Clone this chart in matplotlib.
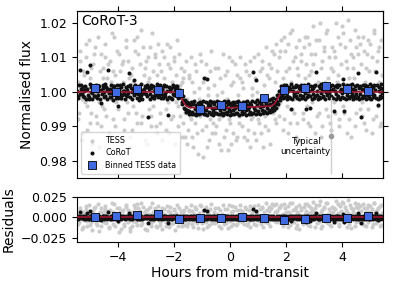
import numpy as np
import matplotlib
matplotlib.use("Agg")
import matplotlib.pyplot as plt

# ---------------- data (hours from mid-transit, flux deviations in ppt) ----------------
tess_t_a = [-5.43, -5.38, -5.34, -5.29, -5.25, -5.19, -5.14, -5.10, -5.05, -5.00, -4.96, -4.91, -4.86, -4.82, -4.77, -4.72, -4.67, -4.63, -4.58, -4.53,
            -4.48, -4.44, -4.39, -4.34, -4.30, -4.25, -4.20, -4.16, -4.11, -4.06, -4.02, -3.97, -3.92, -3.88, -3.83, -3.78, -3.74, -3.69, -3.64, -3.60, -3.55,
            -3.50, -3.46, -3.41, -3.36, -3.32, -3.27, -3.22, -3.18, -3.13, -3.08, -3.04, -2.99, -2.94, -2.90, -2.85, -2.80, -2.76, -2.71, -2.66, -2.62, -2.57,
            -2.52, -2.48, -2.43, -2.38, -2.34, -2.29, -2.24, -2.20, -2.15, -2.10, -2.06, -2.01, -1.96, -1.92, -1.87, -1.82, -1.78, -1.73, -1.68, -1.64, -1.59,
            -1.54, -1.50, -1.45, -1.40, -1.36, -1.31, -1.26, -1.22, -1.17, -1.12, -1.08, -1.03, -0.98, -0.94, -0.89, -0.84, -0.80, -0.75, -0.70, -0.66, -0.61,
            -0.56, -0.52, -0.47, -0.42, -0.38, -0.33, -0.28, -0.24, -0.19, -0.14, -0.10, -0.05, 0.00, 0.05, 0.09, 0.14, 0.19, 0.23, 0.28, 0.33, 0.37,
            0.42, 0.47, 0.51, 0.56, 0.61, 0.65, 0.70, 0.75, 0.79, 0.84, 0.89, 0.93, 0.98, 1.03, 1.07, 1.12, 1.17, 1.21, 1.26, 1.31, 1.35, 1.40, 1.45, 1.49, 1.54, 1.59, 1.63, 1.68,
            1.73, 1.77, 1.82, 1.87, 1.91, 1.96, 2.01, 2.05, 2.10, 2.15, 2.19, 2.24, 2.29, 2.33, 2.38, 2.43, 2.47, 2.52, 2.57, 2.61, 2.66,
            2.71, 2.75, 2.80, 2.85, 2.89, 2.94, 2.99, 3.03, 3.08, 3.13, 3.17, 3.22, 3.27, 3.31, 3.36, 3.41, 3.45, 3.50, 3.55, 3.59, 3.64,
            3.69, 3.73, 3.78, 3.83, 3.87, 3.92, 3.97, 4.01, 4.06, 4.11, 4.15, 4.20, 4.25, 4.29, 4.34, 4.39, 4.43, 4.48, 4.53, 4.57, 4.62,
            4.67, 4.71, 4.76, 4.81, 4.85, 4.90, 4.95, 4.99, 5.04, 5.09, 5.13, 5.18, 5.23, 5.27, 5.32, 5.37, 5.41]
tess_ppt_a = [3, -6, 9, -2, -12, 5, 14, -4, 1, -9, 7, -15, 11, 2, -7, 16, -3, 6, -10, 4,
              -5, 10, -1, 8, -13, 3, 17, -8, 5, -3, 12, -18, 6, -2, 9, -11, 1, 13, -6, 4, -16,
              7, -4, 15, 2, -9, 11, -1, 18, -7, 5, -14, 9, 3, -5, 13, -10, 6, -2, 10, -12, 1,
              8, -6, 12, -1, 4, -11, 14, -3, 7, -8, 2, 10, -15, 5, -4, 11, -7, 3, -9, 6, -13,
              -2, -11, 5, -8, 3, -16, 8, -5, -12, 1, -7, 9, -19, -3, 4, -10, -1, -14, 6, -6, -9,
              2, -12, -4, 7, -8, -17, 0, -6, 5, -11, -2, 10, -9, -15, 3, -5, 8, -13, -1, -7, 4,
              -10, 1, -6, 6, -14, -3, 9, -8, -1, -12, 4, -5, 11, -9, -2, 7, -16, 2, -7, 5, -11, 8, -4, 12, -6, 3, -9, 6,
              10, -3, 15, 4, -8, 12, 1, -12, 7, 17, -5, 9, -2, 13, -9, 5, -14, 11, 2, -6, 16,
              8, -4, 14, -10, 6, 19, -1, 11, -7, 3, 15, -13, 9, 0, 12, -5, 18, 4, -9, 7, 13,
              -3, 10, 20, 5, -8, 14, 2, 17, -6, 9, -12, 21, 4, 11, -2, 7, -10, 13, 1, 16, -5,
              8, -7, 12, 3, -11, 15, 6, -2, 10, -8, 18, 1, 9, -4, 13, -9, 5]
tess_t_b = [-5.41, -5.36, -5.31, -5.27, -5.22, -5.17, -5.12, -5.08, -5.03, -4.98, -4.94, -4.89, -4.84, -4.80, -4.75, -4.70, -4.65, -4.61, -4.56, -4.51,
            -4.46, -4.42, -4.37, -4.32, -4.28, -4.23, -4.18, -4.14, -4.09, -4.04, -4.00, -3.95, -3.90, -3.86, -3.81, -3.76, -3.72, -3.67, -3.62, -3.58, -3.53,
            -3.48, -3.44, -3.39, -3.34, -3.30, -3.25, -3.20, -3.16, -3.11, -3.06, -3.02, -2.97, -2.92, -2.88, -2.83, -2.78, -2.74, -2.69, -2.64, -2.60, -2.55,
            -2.50, -2.46, -2.41, -2.36, -2.32, -2.27, -2.22, -2.18, -2.13, -2.08, -2.04, -1.99, -1.94, -1.90, -1.85, -1.80, -1.76, -1.71, -1.66, -1.62, -1.57,
            -1.52, -1.48, -1.43, -1.38, -1.34, -1.29, -1.24, -1.20, -1.15, -1.10, -1.06, -1.01, -0.96, -0.92, -0.87, -0.82, -0.78, -0.73, -0.68, -0.64, -0.59,
            -0.54, -0.50, -0.45, -0.40, -0.36, -0.31, -0.26, -0.22, -0.17, -0.12, -0.08, -0.03, 0.02, 0.07, 0.11, 0.16, 0.21, 0.25, 0.30, 0.35, 0.39,
            0.44, 0.49, 0.53, 0.58, 0.63, 0.67, 0.72, 0.77, 0.81, 0.86, 0.91, 0.95, 1.00, 1.05, 1.09, 1.14, 1.19, 1.23, 1.28, 1.33, 1.37, 1.42, 1.47, 1.51, 1.56, 1.61, 1.65, 1.70,
            1.75, 1.79, 1.84, 1.89, 1.93, 1.98, 2.03, 2.07, 2.12, 2.17, 2.21, 2.26, 2.31, 2.35, 2.40, 2.45, 2.49, 2.54, 2.59, 2.63, 2.68,
            2.73, 2.77, 2.82, 2.87, 2.91, 2.96, 3.01, 3.05, 3.10, 3.15, 3.19, 3.24, 3.29, 3.33, 3.38, 3.43, 3.47, 3.52, 3.57, 3.61, 3.66,
            3.71, 3.75, 3.80, 3.85, 3.89, 3.94, 3.99, 4.03, 4.08, 4.13, 4.17, 4.22, 4.27, 4.31, 4.36, 4.41, 4.45, 4.50, 4.55, 4.59, 4.64,
            4.69, 4.73, 4.78, 4.83, 4.87, 4.92, 4.97, 5.01, 5.06, 5.11, 5.15, 5.20, 5.25, 5.29, 5.34, 5.39, 5.43]
tess_ppt_b = [-8, 12, 1, -14, 6, -3, 10, -11, 15, 4, -6, 8, -1, 13, -9, 2, -16, 11, -4, 7,
              14, -7, 4, -12, 9, -2, 6, 16, -10, 1, -5, 11, -14, 8, 3, -8, 15, -3, 9, -13, 5,
              -11, 3, 12, -6, 16, -2, 8, -9, 13, 0, 7, -15, 10, 4, -7, 17, -4, 11, -10, 5, 14,
              -9, 6, -14, 10, 1, -5, 8, -12, 13, 3, -7, 9, -3, 15, -10, 2, 7, -13, 4, -6, 9,
              -15, 4, -7, 10, -13, 0, -9, 6, -18, -2, 11, -11, 3, -6, 8, -16, 1, -8, 12, -12, -3,
              7, -10, -1, -15, 4, -7, 11, -13, -4, 6, -17, -8, 2, 9, -12, -3, -14, 5, -9, 10, -6,
              3, -13, 8, -5, -11, 5, -16, 1, -7, 10, -14, 0, -8, 6, -12, 9, -3, -10, 13, -6, 4, -15, 7, -2, 11, -8, 14, -4,
              -7, 12, 2, -11, 16, 6, -4, 14, -9, 3, 18, -6, 10, -13, 7, 15, -2, 9, -8, 13, 4,
              16, -9, 5, 11, -3, 8, -12, 15, 2, -6, 20, 7, -10, 13, 3, 17, -7, 10, 1, -11, 6,
              12, -6, 3, 16, -10, 8, 19, -4, 13, 1, 7, -8, 15, -13, 10, 4, 18, -6, 11, -2, 14,
              -3, 16, -9, 7, 11, -5, 14, 2, -12, 17, 6, -7, 12, 3, -10, 15, -1]

corot_t_a = [-5.44, -5.40, -5.36, -5.32, -5.27, -5.23, -5.19, -5.15, -5.11, -5.06, -5.02, -4.98,
             -4.94, -4.90, -4.86, -4.81, -4.77, -4.73, -4.69, -4.65, -4.60, -4.56, -4.52, -4.48,
             -4.44, -4.39, -4.35, -4.31, -4.27, -4.23, -4.18, -4.14, -4.10, -4.06, -4.02, -3.98,
             -3.93, -3.89, -3.85, -3.81, -3.77, -3.72, -3.68, -3.64, -3.60, -3.56, -3.51, -3.47,
             -3.43, -3.39, -3.35, -3.30, -3.26, -3.22, -3.18, -3.14, -3.09, -3.05, -3.01, -2.97,
             -2.93, -2.88, -2.84, -2.80, -2.76, -2.72, -2.67, -2.63, -2.59, -2.55, -2.51, -2.46,
             -2.42, -2.38, -2.34, -2.30, -2.25, -2.21, -2.17, -2.13, -2.09, -2.04, -2.00, -1.96,
             -1.92, -1.88, -1.83, -1.79, -1.75, -1.71, -1.67, -1.62, -1.58, -1.54, -1.50, -1.46,
             -1.42, -1.37, -1.33, -1.29, -1.25, -1.21, -1.16, -1.12, -1.08, -1.04, -1.00, -0.96,
             -0.92, -0.87, -0.83, -0.79, -0.75, -0.71, -0.66, -0.62, -0.58, -0.54, -0.50, -0.46,
             -0.41, -0.37, -0.33, -0.29, -0.25, -0.20, -0.16, -0.12, -0.08, -0.04, 0.01, 0.05,
             0.09, 0.13, 0.18, 0.22, 0.26, 0.30, 0.34, 0.39, 0.43, 0.47, 0.51, 0.55,
             0.59, 0.64, 0.68, 0.72, 0.76, 0.80, 0.85, 0.89, 0.93, 0.97, 1.01, 1.05,
             1.10, 1.14, 1.18, 1.22, 1.27, 1.31, 1.35, 1.39, 1.43, 1.48, 1.52, 1.56,
             1.60, 1.64, 1.68, 1.72, 1.77, 1.81, 1.85, 1.89, 1.93, 1.98, 2.02, 2.06,
             2.10, 2.14, 2.18, 2.23, 2.27, 2.31, 2.35, 2.39, 2.44, 2.48, 2.52, 2.56,
             2.60, 2.65, 2.69, 2.73, 2.77, 2.81, 2.86, 2.90, 2.94, 2.98, 3.02, 3.06,
             3.11, 3.15, 3.19, 3.23, 3.28, 3.32, 3.36, 3.40, 3.44, 3.49, 3.53, 3.57,
             3.61, 3.65, 3.70, 3.74, 3.78, 3.82, 3.86, 3.91, 3.95, 3.99, 4.03, 4.07,
             4.12, 4.16, 4.20, 4.24, 4.28, 4.33, 4.37, 4.41, 4.45, 4.49, 4.54, 4.58,
             4.62, 4.66, 4.70, 4.75, 4.79, 4.83, 4.87, 4.91, 4.96, 5.00, 5.04, 5.08,
             5.12, 5.16, 5.20, 5.25, 5.29, 5.33, 5.37, 5.41, 5.44]
corot_ppt_a = [0.3, -1.1, 6.3, 0.8, -0.5, 1.3, -1.6, 0.5, 5.8, -0.8, -2.1, 7.7,
               1.4, -0.4, 0.7, -1.3, 0.2, 1.1, -0.9, 0.5, -3.1, -0.6, 1.2, 0.0,
               -1.2, 0.6, 6.3, -0.3, 0.9, -1.5, 1.6, -0.7, 0.4, -1.9, 0.2, -4.0,
               -0.5, 1.3, -1.0, 0.3, 0.4, -0.8, 0.6, 1.7, 5.4, -1.4, 0.1, 0.9,
               3.4, 0.5, -0.2, 1.2, -2.3, 0.7, -0.9, 0.2, -0.3, -0.4, 1.5, -1.1,
               -7.2, 0.8, -0.6, 1.1, -1.3, 0.4, 0.6, -0.9, 0.3, 1.4, -0.5, -1.8,
               0.6, -1.0, 1.6, -0.3, 0.4, -6.8, -1.4, 0.2, 1.2, -0.7, 1.3, 0.5,
               -0.8, 1.1, 0.3, -1.4, -1.0, -3.4, -2.5, -4.9, -3.1, -5.2, -3.8, -5.6,
               -4.0, -5.8, -3.5, -6.3, -5.1, -3.9, -5.0, -4.2, -5.3, -3.6, -4.9, -4.4,
               4.0, -5.4, 3.7, -4.1, -5.9, -3.8, -4.7, -5.6, -3.4, -4.8, -6.0, -4.3,
               -3.9, -5.2, -4.5, -6.2, -3.7, -5.0, -4.4, -5.7, -3.6, -4.9, -5.5, -4.1,
               -5.3, -3.8, -4.7, -6.0, -4.2, -5.1, -3.5, -4.8, -5.9, -4.0, -4.6, -5.4,
               -3.7, -5.0, -4.3, -5.8, -3.9, 5.8, -4.6, -5.2, 3.4, -3.8, -5.5, -4.4,
               -3.6, -5.2, -4.0, -5.6, -3.4, -4.7, -3.9, -5.3, -3.5, -4.6, -3.0, -4.0,
               -3.6, -2.0, -2.9, -0.9, -1.5, 0.6, -0.8, 1.2, -0.3, 0.7, -1.1, 0.4,
               -1.4, 0.9, -4.9, 0.3, -0.6, 1.5, -1.2, 0.1, 1.1, -0.8, 0.5, -1.7,
               0.8, -0.3, -5.1, 1.2, -1.0, 0.4, -4.6, 0.9, -0.5, 1.6, -1.3, 5.8,
               0.2, -1.5, 1.0, -0.4, 0.7, -1.1, 1.4, 0.0, -0.9, 1.1, -0.2, 0.6,
               -1.2, 0.8, -5.6, 0.4, -0.7, 1.3, -1.6, 0.2, 0.9, -0.4, 3.7, -5.6,
               1.0, -0.9, 0.3, -1.4, 1.5, -0.2, 0.7, -1.1, 0.5, -0.6, 5.4, 1.2,
               -0.5, -7.2, 0.9, -1.3, 0.4, 1.1, -0.8, 0.2, -1.6, 0.8, -0.3, 1.4,
               -1.0, 0.6, 5.8, -3.7, 0.3, -1.2, 1.0, -0.4, 0.7]
corot_t_b = [-5.42, -5.38, -5.34, -5.30, -5.25, -5.21, -5.17, -5.13, -5.09, -5.04, -5.00, -4.96,
             -4.92, -4.88, -4.84, -4.79, -4.75, -4.71, -4.67, -4.63, -4.58, -4.54, -4.50, -4.46,
             -4.42, -4.37, -4.33, -4.29, -4.25, -4.21, -4.16, -4.12, -4.08, -4.04, -4.00, -3.96,
             -3.91, -3.87, -3.83, -3.79, -3.75, -3.70, -3.66, -3.62, -3.58, -3.54, -3.49, -3.45,
             -3.41, -3.37, -3.33, -3.28, -3.24, -3.20, -3.16, -3.12, -3.07, -3.03, -2.99, -2.95,
             -2.91, -2.86, -2.82, -2.78, -2.74, -2.70, -2.65, -2.61, -2.57, -2.53, -2.49, -2.44,
             -2.40, -2.36, -2.32, -2.28, -2.23, -2.19, -2.15, -2.11, -2.07, -2.02, -1.98, -1.94,
             -1.90, -1.86, -1.81, -1.77, -1.73, -1.69, -1.65, -1.60, -1.56, -1.52, -1.48, -1.44,
             -1.40, -1.35, -1.31, -1.27, -1.23, -1.19, -1.14, -1.10, -1.06, -1.02, -0.98, -0.94,
             -0.90, -0.85, -0.81, -0.77, -0.73, -0.69, -0.64, -0.60, -0.56, -0.52, -0.48, -0.44,
             -0.39, -0.35, -0.31, -0.27, -0.23, -0.18, -0.14, -0.10, -0.06, -0.02, 0.03, 0.07,
             0.11, 0.15, 0.20, 0.24, 0.28, 0.32, 0.36, 0.41, 0.45, 0.49, 0.53, 0.57,
             0.61, 0.66, 0.70, 0.74, 0.78, 0.82, 0.87, 0.91, 0.95, 0.99, 1.03, 1.07,
             1.12, 1.16, 1.20, 1.24, 1.29, 1.33, 1.37, 1.41, 1.45, 1.50, 1.54, 1.58,
             1.62, 1.66, 1.70, 1.74, 1.79, 1.83, 1.87, 1.91, 1.95, 2.00, 2.04, 2.08,
             2.12, 2.16, 2.20, 2.25, 2.29, 2.33, 2.37, 2.41, 2.46, 2.50, 2.54, 2.58,
             2.62, 2.67, 2.71, 2.75, 2.79, 2.83, 2.88, 2.92, 2.96, 3.00, 3.04, 3.08,
             3.13, 3.17, 3.21, 3.25, 3.30, 3.34, 3.38, 3.42, 3.46, 3.51, 3.55, 3.59,
             3.63, 3.67, 3.72, 3.76, 3.80, 3.84, 3.88, 3.93, 3.97, 4.01, 4.05, 4.09,
             4.14, 4.18, 4.22, 4.26, 4.30, 4.35, 4.39, 4.43, 4.47, 4.51, 4.56, 4.60,
             4.64, 4.68, 4.72, 4.77, 4.81, 4.85, 4.89, 4.93, 4.98, 5.02, 5.06, 5.10,
             5.14, 5.18, 5.22, 5.27, 5.31, 5.35, 5.39, 5.43]
corot_ppt_b = [-1.8, 1.9, -0.7, 2.1, -1.2, 0.4, 1.7, -2.0, 0.9, -1.5, 2.2, -0.1,
               -2.2, 1.6, -1.1, 2.0, -1.7, 0.3, 1.8, -2.1, 0.6, 1.9, -1.4, 2.3,
               1.5, -2.0, 0.8, -1.6, 2.1, -0.2, -2.3, 1.7, -1.0, 2.0, -1.8, 0.7,
               1.9, -1.7, 2.2, -0.6, -2.1, 1.4, -1.3, -0.4, 2.0, 1.1, -2.2, 0.3,
               -0.9, 2.1, -1.9, -0.7, 1.8, -1.4, 2.2, -2.0, 0.8, 1.6, -0.6, 2.0,
               1.3, -2.1, 2.0, -1.6, 1.7, -1.9, -0.3, 2.2, -1.5, -0.8, 2.1, 0.9,
               -1.9, 2.1, -1.2, 1.8, -2.2, 1.5, 0.6, -1.8, -2.1, 2.0, -1.0, 1.6,
               1.6, -1.9, -1.5, 0.6, -3.0, -1.2, -4.6, -2.5, -5.9, -2.8, -6.4, -3.2,
               -2.9, -6.5, -3.0, -2.7, -6.6, -5.9, -3.1, -6.4, -2.8, -6.2, -2.6, -6.5,
               -6.3, -2.9, -6.6, -3.2, -2.7, -6.4, -2.8, -6.7, -3.0, -6.1, -2.6, -6.5,
               -2.8, -6.4, -3.1, -6.7, -2.6, -6.2, -3.0, -6.5, -2.7, -6.6, -3.2, -6.3,
               -2.9, -6.5, -3.0, -6.2, -2.7, -6.6, -3.3, -6.4, -2.8, -6.1, -3.0, -6.6,
               -2.7, -6.3, -3.1, -6.5, -2.6, -6.2, -3.0, -6.4, -2.5, -6.1, -2.9, -6.3,
               -2.5, -6.2, -2.6, -5.9, -2.3, -6.0, -2.4, -5.8, -2.2, -5.6, -1.9, -5.2,
               -4.6, -1.0, -3.6, 0.2, -2.5, 1.6, -1.8, 2.0, -1.6, 1.9, -2.1, 1.5,
               -1.7, 2.2, -2.0, 1.4, -1.1, 2.1, -1.9, 1.7, -2.2, 0.8, 2.0, -1.3,
               1.9, -2.1, 1.5, -1.6, 2.2, -1.2, 1.8, -2.0, 1.1, -1.7, 2.1, -0.8,
               -2.0, 1.8, -1.8, 2.2, -1.4, 1.9, -2.2, 1.6, 2.0, -1.9, 1.7, -1.5,
               2.1, -1.9, 1.7, -2.2, 2.0, -1.3, 1.9, -2.0, -1.6, 2.2, -1.8, 1.5,
               -2.1, 1.9, -1.7, 2.0, -1.2, 2.2, -2.0, 1.6, -1.9, 2.1, -1.4, -2.2,
               1.8, -1.9, 2.1, -1.5, 1.9, -2.1, 1.6, -1.8, 2.2, -2.0, 1.7, -1.4,
               2.0, -1.7, 1.9, -2.1, 1.5, -1.9, 2.2, -1.6]

model_t = [-5.6, -1.83, -1.75, -1.66, -1.57, -1.45, -1.0, 0.0, 1.0, 1.45, 1.58, 1.68, 1.77, 1.85, 5.6]
model_ppt = [0.0, 0.0, -1.3, -3.0, -4.0, -4.5, -4.7, -4.6, -4.3, -4.1, -3.5, -2.2, -0.9, 0.0, 0.0]

bin_t = [-4.80, -4.06, -3.31, -2.56, -1.81, -1.07, -0.32, 0.44, 1.19, 1.93, 2.68, 3.42, 4.17, 4.92]
bin_flux = [1.00106, 0.99990, 1.00090, 1.00060, 0.99960, 0.99514, 0.99620, 0.99600,
            0.99820, 1.00057, 1.00120, 1.00180, 1.00080, 1.00030]
bin_resid = [0.0009, 0.0017, 0.0029, 0.0042, -0.0024, -0.0007, -0.0004, 0.0009,
             -0.0012, -0.0037, -0.0020, -0.0007, -0.0012, 0.0012]

unc_t = 3.6
unc_flux = 0.9872
unc_err = 0.0112

# ---------------- derived quantities ----------------
tess_t = np.array(tess_t_a + tess_t_b)
tess_flux = 1 + np.array(tess_ppt_a + tess_ppt_b) / 1000.0
corot_t = np.array(corot_t_a + corot_t_b)
corot_flux = 1 + np.array(corot_ppt_a + corot_ppt_b) / 1000.0
model_t = np.array(model_t)
model_flux = 1 + np.array(model_ppt) / 1000.0
tess_res = tess_flux - np.interp(tess_t, model_t, model_flux)
corot_res = corot_flux - np.interp(corot_t, model_t, model_flux)

# ---------------- figure ----------------
fig = plt.figure(figsize=(3.95, 2.82), dpi=100)
ax = fig.add_axes([0.195, 0.369, 0.775, 0.592])
axr = fig.add_axes([0.195, 0.143, 0.775, 0.159])

grey = '#cbcbcb'
red = '#9e1530'
blue = '#3f6ae0'

ax.scatter(tess_t, tess_flux, s=9, color=grey, lw=0, zorder=1, label='TESS')
ax.scatter(corot_t, corot_flux, s=8.5, color='#111111', lw=0, zorder=2, label='CoRoT')
ax.plot(model_t, model_flux, color=red, lw=1.2, zorder=3)
ax.plot(bin_t, bin_flux, 's', ms=5.2, mfc=blue, mec='black', mew=0.6, ls='none', zorder=4,
        label='Binned TESS data')
ax.errorbar([unc_t], [unc_flux], yerr=[unc_err], fmt='o', ms=3, color='#999999',
            ecolor='#d0d0d0', elinewidth=1.0, zorder=2)
ax.text(2.69, 0.9841, 'Typical\nuncertainty', ha='center', va='center', fontsize=6.3,
        linespacing=1.1)
ax.text(0.015, 0.985, 'CoRoT-3', transform=ax.transAxes, ha='left', va='top', fontsize=10)

ax.set_xlim(-5.45, 5.45)
ax.set_ylim(0.975, 1.0235)
ax.set_yticks([0.98, 0.99, 1.00, 1.01, 1.02])
ax.set_xticks([-4, -2, 0, 2, 4])
ax.tick_params(axis='x', direction='in', labelbottom=False, length=3.5)
ax.tick_params(axis='y', labelsize=9)
ax.set_ylabel('Normalised flux', fontsize=10)
secx = ax.secondary_xaxis('top')
secx.set_xticks([-4, -2, 0, 2, 4])
secx.set_xticklabels([])
secx.tick_params(length=3.5)
secy = ax.secondary_yaxis('right')
secy.set_yticks([0.98, 0.99, 1.00, 1.01, 1.02])
secy.set_yticklabels([])
secy.tick_params(length=3.5)

leg = ax.legend(loc='lower left', fontsize=5.8, frameon=True, borderpad=0.5,
                handlelength=1.6, handletextpad=0.9, labelspacing=0.45, markerscale=1.0)

axr.scatter(tess_t, tess_res, s=9, color=grey, lw=0, zorder=1)
axr.scatter(corot_t, corot_res, s=8.5, color='#111111', lw=0, zorder=2)
axr.axhline(0, color=red, lw=1.2, zorder=3)
axr.plot(bin_t, bin_resid, 's', ms=5.2, mfc=blue, mec='black', mew=0.6, ls='none', zorder=4)
axr.set_xlim(-5.45, 5.45)
axr.set_ylim(-0.0295, 0.025)
axr.set_yticks([-0.025, 0.0, 0.025])
axr.set_xticks([-4, -2, 0, 2, 4])
axr.tick_params(labelsize=9)
axr.set_ylabel('Residuals', fontsize=10)
axr.set_xlabel('Hours from mid-transit', fontsize=10, labelpad=1)

fig.savefig('out.png', dpi=100)
